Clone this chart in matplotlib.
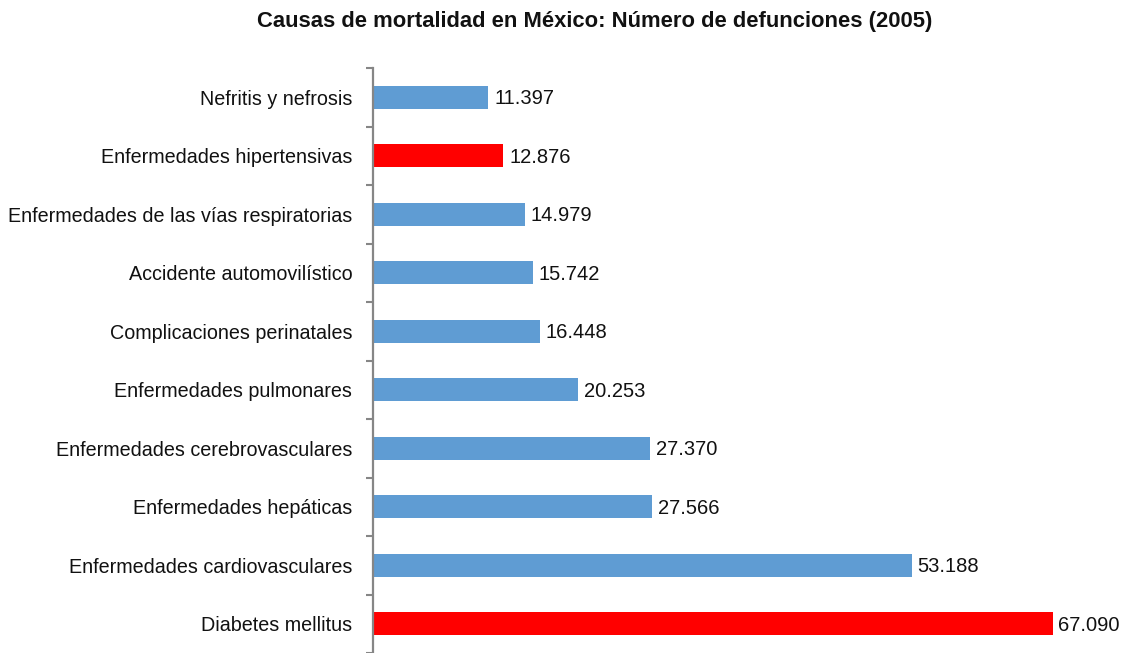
import matplotlib
matplotlib.use("Agg")
import matplotlib.pyplot as plt
from matplotlib import font_manager

causas = [
    "Nefritis y nefrosis",
    "Enfermedades hipertensivas",
    "Enfermedades de las vías respiratorias",
    "Accidente automovilístico",
    "Complicaciones perinatales",
    "Enfermedades pulmonares",
    "Enfermedades cerebrovasculares",
    "Enfermedades hepáticas",
    "Enfermedades cardiovasculares",
    "Diabetes mellitus",
]
defunciones = [11397, 12876, 14979, 15742, 16448, 20253, 27370, 27566, 53188, 67090]
resaltadas = ["Enfermedades hipertensivas", "Diabetes mellitus"]

AZUL = "#5f9cd3"
ROJO = "#ff0000"
GRIS = "#868686"

nombres = {f.name for f in font_manager.fontManager.ttflist}
angosta = "Liberation Sans Narrow" in nombres
fuente = ["Liberation Sans Narrow", "DejaVu Sans"] if angosta else ["Liberation Sans", "DejaVu Sans"]
tam = 17 if angosta else 14.2
tam_titulo = 17 if angosta else 15.8
plt.rcParams["font.family"] = fuente

W, H = 1133, 653
fig = plt.figure(figsize=(W / 100, H / 100), dpi=100)
x0, y_top = 373, 68
ax = fig.add_axes([x0 / W, 0, (W - x0) / W, (H - y_top) / H])

pos = list(range(len(causas)))
colores = [ROJO if c in resaltadas else AZUL for c in causas]
ax.barh(pos, defunciones, height=0.4, color=colores, zorder=2)

def miles(v):
    return f"{v:,}".replace(",", ".")

for p, v in zip(pos, defunciones):
    ax.annotate(miles(v), (v, p), xytext=(4, -1), textcoords="offset points",
                ha="left", va="center", fontsize=14.5, color="#111111")

ax.set_xlim(0, 75000)
ax.set_ylim(len(causas) - 0.5, -0.5)

for s in ["top", "right", "bottom"]:
    ax.spines[s].set_visible(False)
ax.spines["left"].set_color(GRIS)
ax.spines["left"].set_linewidth(1.6)

ax.set_xticks([])
ax.set_yticks(pos)
ax.set_yticklabels(causas, fontsize=tam, color="#111111")
ax.tick_params(axis="y", which="major", length=0, pad=15)
ax.set_yticks([p - 0.5 for p in pos] + [len(causas) - 0.5], minor=True)
ax.tick_params(axis="y", which="minor", length=5, width=1.5, color=GRIS, direction="out")

fig.text(595 / W, 1 - 22 / H, "Causas de mortalidad en México: Número de defunciones (2005)",
         ha="center", va="center", fontsize=tam_titulo, fontweight="bold", color="#111111")

fig.savefig("out.png", dpi=100)
